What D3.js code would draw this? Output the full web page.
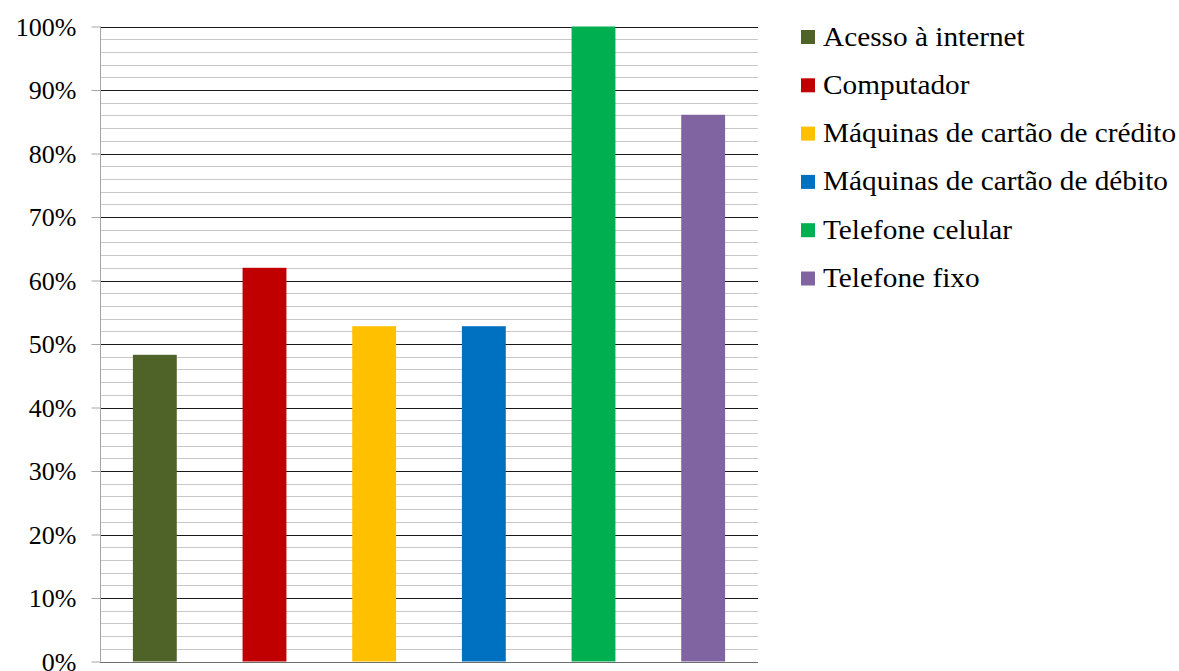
<!DOCTYPE html>
<html>
<head>
<meta charset="utf-8">
<script src="https://cdn.jsdelivr.net/npm/d3@7"></script>
<style>
  body { margin: 0; background: #fff; }
</style>
</head>
<body>
<svg id="chart" width="1179" height="671"></svg>
<script>
// Share of establishments using each technology
const categories = [
  "Acesso à internet",
  "Computador",
  "Máquinas de cartão de crédito",
  "Máquinas de cartão de débito",
  "Telefone celular",
  "Telefone fixo"
];
const values = [0.483, 0.62, 0.528, 0.528, 1.0, 0.861];
const colors = ["#4f6228", "#c00000", "#ffc000", "#0070c0", "#00b050", "#8064a2"];
const yTicks = [0, 0.1, 0.2, 0.3, 0.4, 0.5, 0.6, 0.7, 0.8, 0.9, 1.0];
const yMinorTicks = d3.range(0, 1.0001, 0.02);

const serif = "'Liberation Serif', 'DejaVu Serif', Times, serif";
const svg = d3.select("#chart");
const plot = { left: 100, right: 758, top: 26.5, bottom: 661.5 };

const x = d3.scaleBand()
  .domain(categories)
  .range([plot.left, plot.right])
  .paddingInner(0.6)
  .paddingOuter(0.3);

const y = d3.scaleLinear().domain([0, 1]).range([plot.bottom, plot.top]);

// minor gridlines
svg.append("g")
  .selectAll("line")
  .data(yMinorTicks.filter(v => Math.round(v * 100) % 10 !== 0))
  .join("line")
  .attr("x1", plot.left).attr("x2", plot.right)
  .attr("y1", d => Math.round(y(d)) + 0.5).attr("y2", d => Math.round(y(d)) + 0.5)
  .attr("stroke", "#c8c8c8").attr("stroke-width", 1);

// major gridlines
svg.append("g")
  .selectAll("line")
  .data(yTicks.filter(v => v > 0))
  .join("line")
  .attr("x1", plot.left).attr("x2", plot.right)
  .attr("y1", d => Math.round(y(d)) + 0.5).attr("y2", d => Math.round(y(d)) + 0.5)
  .attr("stroke", "#1a1a1a").attr("stroke-width", 1);

// bars
svg.append("g")
  .selectAll("rect")
  .data(categories)
  .join("rect")
  .attr("x", d => x(d))
  .attr("width", x.bandwidth())
  .attr("y", (d, i) => y(values[i]))
  .attr("height", (d, i) => y(0) - y(values[i]))
  .attr("fill", (d, i) => colors[i]);

// y axis
const yAxis = d3.axisLeft(y)
  .tickValues(yTicks)
  .tickFormat(d3.format(".0%"))
  .tickSize(9)
  .tickPadding(15);

const gy = svg.append("g")
  .attr("transform", `translate(${plot.left + 0.5},0)`)
  .call(yAxis)
  .attr("font-family", serif)
  .attr("font-size", 26);
gy.select(".domain").attr("stroke", "#a6a6a6").attr("d", `M0,${plot.top}V${plot.bottom}`);
gy.selectAll(".tick line").attr("stroke", "#a6a6a6");
gy.selectAll(".tick text").attr("fill", "#000").attr("dy", "0.33em");

// baseline
svg.append("line")
  .attr("x1", plot.left).attr("x2", plot.right)
  .attr("y1", Math.round(y(0)) + 0.5).attr("y2", Math.round(y(0)) + 0.5)
  .attr("stroke", "#6e6e6e").attr("stroke-width", 1);

// legend: one row per category, text slightly widened
const legend = svg.append("g")
  .attr("font-family", serif)
  .attr("font-size", 27.5)
  .selectAll("g")
  .data(categories)
  .join("g")
  .attr("transform", (d, i) => `translate(801, ${37 + i * 48.3})`);

legend.append("rect")
  .attr("x", 0).attr("y", -7)
  .attr("width", 14).attr("height", 14)
  .attr("fill", (d, i) => colors[i]);

legend.append("g")
  .attr("transform", "translate(22,8.5) scale(1.066,1)")
  .append("text")
  .attr("x", 0).attr("y", 0)
  .attr("fill", "#000")
  .text(d => d);
</script>
</body>
</html>
